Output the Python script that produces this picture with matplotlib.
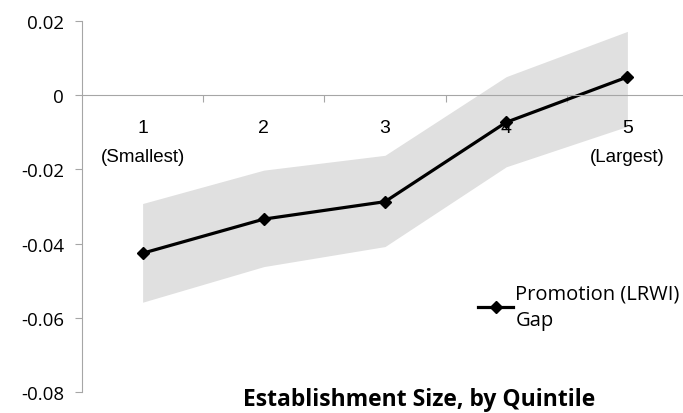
import matplotlib.pyplot as plt
import matplotlib.transforms as mtransforms

quintiles = [1, 2, 3, 4, 5]
gap = [-0.0426, -0.0334, -0.0287, -0.0073, 0.0049]
upper = [-0.0292, -0.0202, -0.0162, 0.0050, 0.0172]
lower = [-0.0558, -0.0462, -0.0408, -0.0193, -0.0084]
tick_labels = ['1', '2', '3', '4', '5']
end_labels = {1: '(Smallest)', 5: '(Largest)'}

fig = plt.figure(figsize=(6.83, 4.14), dpi=100)
ax = fig.add_axes([82 / 683, 1 - 393 / 414, 606 / 683, 371 / 414])

ax.fill_between(quintiles, lower, upper, color='#e0e0e0', linewidth=0)
ax.plot(quintiles, gap, color='black', lw=2.3, marker='D', markersize=6.5,
        label='Promotion (LRWI)\nGap')

ax.set_xlim(0.5, 5.5)
ax.set_ylim(-0.08, 0.02)
ax.set_yticks([-0.08, -0.06, -0.04, -0.02, 0, 0.02])
ax.set_yticklabels(['-0.08', '-0.06', '-0.04', '-0.02', '0', '0.02'],
                   fontfamily='Open Sans', fontsize=13.5)

axis_gray = '#a6a6a6'
for s in ['top', 'right']:
    ax.spines[s].set_visible(False)
ax.spines['left'].set_color(axis_gray)
ax.spines['bottom'].set_color(axis_gray)
ax.spines['bottom'].set_position(('data', 0))
ax.tick_params(axis='y', colors=axis_gray, length=5, labelcolor='black', pad=8)

# category boundaries as ticks, labels drawn as text
ax.set_xticks([q + 0.5 for q in quintiles[:-1]])
ax.set_xticklabels([])
ax.tick_params(axis='x', colors=axis_gray, length=5, direction='out')

trans = ax.transData
for q, lab in zip(quintiles, tick_labels):
    ax.text(q, 0, lab, ha='center', va='center', fontsize=14,
            fontfamily='Liberation Sans',
            transform=trans + mtransforms.ScaledTranslation(0, -32 / 100, fig.dpi_scale_trans))
for q, lab in end_labels.items():
    ax.text(q, 0, lab, ha='center', va='center', fontsize=13.5,
            fontfamily='Liberation Sans',
            transform=trans + mtransforms.ScaledTranslation(0, -61 / 100, fig.dpi_scale_trans))

fig.text(419 / 683, 1 - 400 / 414, 'Establishment Size, by Quintile', ha='center',
         va='center', fontsize=16.5, fontweight='bold', fontfamily='Open Sans')

leg = ax.legend(loc='upper left', bbox_to_anchor=(478 / 683, 1 - 285 / 414),
                bbox_transform=fig.transFigure, frameon=False,
                handlelength=1.75, handletextpad=0.1, borderpad=0, borderaxespad=0,
                prop={'family': 'Open Sans', 'size': 14.5})
for t in leg.get_texts():
    t.set_linespacing(1.4)

fig.savefig('out.png', dpi=100)
